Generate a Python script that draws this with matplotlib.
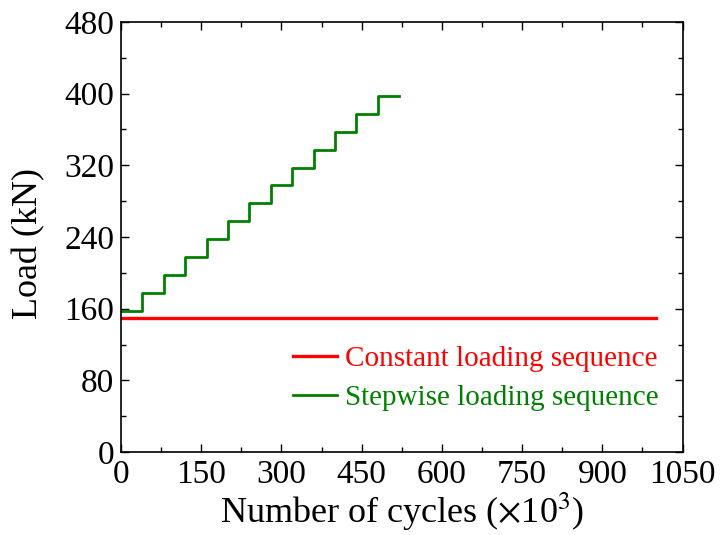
import numpy as np
import matplotlib
matplotlib.use('Agg')
import matplotlib.pyplot as plt
from matplotlib.ticker import MultipleLocator

plt.rcParams['font.family'] = ['Liberation Serif', 'DejaVu Serif']
plt.rcParams['mathtext.fontset'] = 'stix'

# constant loading sequence (x1000 cycles, kN)
const_cycles = [0, 1000]
const_load = [150, 150]

# stepwise loading sequence: step boundaries and load level of each step
step_cycles = [0, 40, 80, 120, 160, 200, 240, 280, 320, 360, 400, 440, 480, 520]
step_load = [157.5, 177.5, 197.5, 217.5, 237.5, 257.5, 277.5, 297.5,
             317.5, 337.5, 357.5, 377.5, 397.5]

fig = plt.figure(figsize=(7.2, 5.35), dpi=100)
ax = fig.add_axes([0.168, 0.155, 0.78, 0.804])

ax.plot(const_cycles, const_load, color='#ff0000', lw=2.4, label='Constant loading sequence')
ax.step(step_cycles, step_load + [step_load[-1]], where='post', color='#008000', lw=2.0,
        label='Stepwise loading sequence')

ax.set_xlim(0, 1050)
ax.set_ylim(0, 480)
ax.xaxis.set_major_locator(MultipleLocator(150))
ax.xaxis.set_minor_locator(MultipleLocator(75))
ax.yaxis.set_major_locator(MultipleLocator(80))
ax.yaxis.set_minor_locator(MultipleLocator(40))
ax.tick_params(which='both', direction='in', top=True, right=True, width=1.0, labelsize=24)
ax.tick_params(which='major', length=6, pad=5)
ax.tick_params(which='minor', length=3.5)
for sp in ax.spines.values():
    sp.set_linewidth(1.2)

ax.set_xlabel(r'Number of cycles ($\times$10$^3$)', fontsize=26, labelpad=1)
ax.set_ylabel('Load (kN)', fontsize=26)
ax.yaxis.set_label_coords(-0.135, 0.485)

leg = ax.legend(loc='lower right', bbox_to_anchor=(1.005, 0.035), frameon=False, fontsize=21,
                handlelength=1.5, handletextpad=0.3, labelspacing=0.42)
for text, line in zip(leg.get_texts(), leg.get_lines()):
    text.set_color(line.get_color())

fig.savefig('out.png', dpi=100)
